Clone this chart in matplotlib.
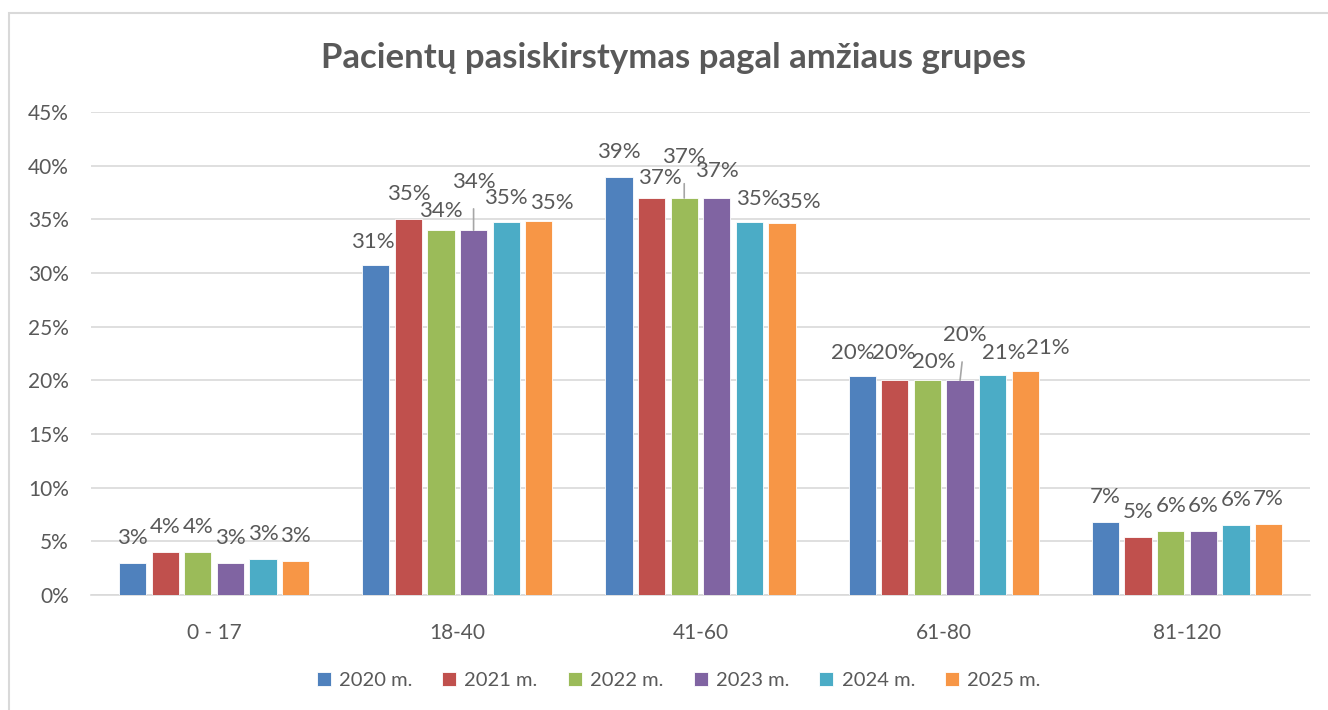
import numpy as np
import matplotlib
matplotlib.use("Agg")
import matplotlib.pyplot as plt
from matplotlib.patches import Rectangle

plt.rcParams['font.family'] = ['Lato', 'DejaVu Sans']

# duomenys (%)
groups = ["0 - 17", "18-40", "41-60", "61-80", "81-120"]
years = ["2020 m.", "2021 m.", "2022 m.", "2023 m.", "2024 m.", "2025 m."]
v2020 = [3.0, 30.8, 39.0, 20.4, 6.8]
v2021 = [4.0, 35.0, 37.0, 20.0, 5.4]
v2022 = [4.0, 34.0, 37.0, 20.0, 6.0]
v2023 = [3.0, 34.0, 37.0, 20.0, 6.0]
v2024 = [3.4, 34.8, 34.8, 20.55, 6.5]
v2025 = [3.2, 34.9, 34.7, 20.9, 6.6]
series = [v2020, v2021, v2022, v2023, v2024, v2025]

colors = ["#4F81BD", "#C0504D", "#9BBB59", "#8064A2", "#4BACC6", "#F79646"]
txt = "#595959"

# etikeciu poslinkiai (pikseliais): (serija, grupe) -> (dx, dy), leader
label_shift = {
    (0, 1): (-3, -23, False),
    (1, 1): (0, -25, False),
    (2, 1): (0, -19, False),
    (3, 1): (0, -48, True),
    (4, 1): (0, -24, False),
    (5, 1): (13, -18, False),
    (1, 2): (8, -20, False),
    (2, 2): (0, -41, True),
    (3, 2): (0, -27, False),
    (4, 2): (8, -23, False),
    (5, 2): (17, -21, False),
    (0, 3): (-9, -23, False),
    (1, 3): (-1, -27, False),
    (2, 3): (6, -18, False),
    (3, 3): (5, -45, True),
    (4, 3): (11, -22, False),
    (5, 3): (23, -23, False),
}

fig = plt.figure(figsize=(13.28, 7.1), dpi=100)
fig.patches.append(Rectangle((9 / 1328, -0.1), 1.2, 1.1 - 13 / 710,
                             transform=fig.transFigure, fill=False,
                             edgecolor="#d9d9d9", linewidth=1.5))
ax = fig.add_axes([0.0685, 0.162, 0.918, 0.680])

x = np.arange(len(groups))
step = 0.134
width = 0.112
px2pt = 72 / 100

for i, (vals, c, yr) in enumerate(zip(series, colors, years)):
    xs = x + (i - 2.5) * step
    ax.bar(xs, vals, width, color=c, edgecolor="white", linewidth=0.6,
           label=yr, zorder=3)
    for j, (xx, v) in enumerate(zip(xs, vals)):
        dx, dy, leader = label_shift.get((i, j), (0, -25, False))
        arrow = None
        if leader:
            arrow = dict(arrowstyle="-", color="#a6a6a6", lw=1.2,
                         shrinkA=10, shrinkB=0)
        ax.annotate(f"{v:.0f}%", xy=(xx, v),
                    xytext=(dx * px2pt, -dy * px2pt),
                    textcoords="offset points", ha="center", va="center",
                    fontsize=16, color=txt, arrowprops=arrow)

ax.set_xlim(-0.506, 4.506)
ax.set_ylim(0, 45)
ax.set_yticks(np.arange(0, 46, 5))
ax.set_yticklabels([f"{t}%" for t in range(0, 46, 5)])
ax.set_xticks(x)
ax.set_xticklabels(groups)
ax.tick_params(axis="y", length=0, pad=16, labelsize=15, labelcolor=txt)
ax.tick_params(axis="x", length=0, pad=20, labelsize=15, labelcolor=txt)
ax.grid(axis="y", color="#d9d9d9", linewidth=1.2, zorder=0)
for s in ["left", "right", "top"]:
    ax.spines[s].set_visible(False)
ax.spines["bottom"].set_color("#d9d9d9")
ax.spines["bottom"].set_linewidth(1.2)

fig.text(0.507, 0.918, "Pacientų pasiskirstymas pagal amžiaus grupes",
         ha="center", va="center", fontsize=25, fontweight="bold", color=txt)

fig.legend(loc="center", bbox_to_anchor=(0.511, 0.042), ncol=6, frameon=False,
           fontsize=14.5, labelcolor=txt, handlelength=0.7, handleheight=0.7,
           handletextpad=0.4, columnspacing=1.5)

fig.savefig("out.png", dpi=100)
